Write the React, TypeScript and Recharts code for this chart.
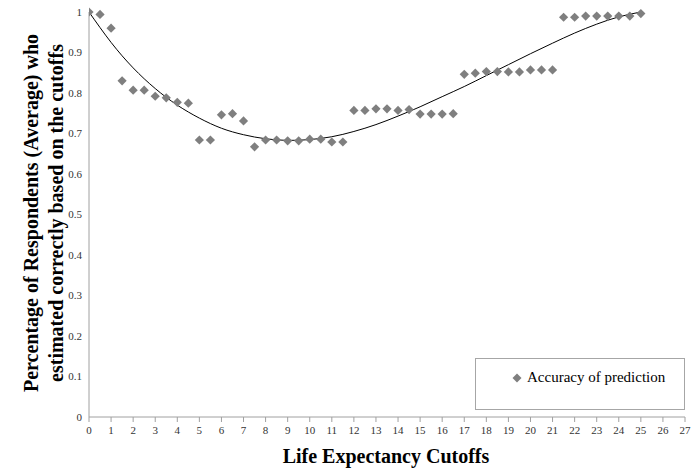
import React from 'react';
import { ComposedChart, Scatter, Line, XAxis, YAxis } from 'recharts';

const cutoffs = [
  0, 0.5, 1, 1.5, 2, 2.5, 3, 3.5, 4, 4.5, 5, 5.5, 6, 6.5, 7, 7.5, 8, 8.5, 9, 9.5,
  10, 10.5, 11, 11.5, 12, 12.5, 13, 13.5, 14, 14.5, 15, 15.5, 16, 16.5, 17, 17.5,
  18, 18.5, 19, 19.5, 20, 20.5, 21, 21.5, 22, 22.5, 23, 23.5, 24, 24.5, 25,
];
const accuracy = [
  1.0, 0.994, 0.96, 0.83, 0.807, 0.807, 0.792, 0.788, 0.777, 0.775, 0.684, 0.684,
  0.746, 0.749, 0.731, 0.667, 0.684, 0.684, 0.682, 0.682, 0.686, 0.686, 0.679, 0.679,
  0.757, 0.757, 0.761, 0.761, 0.757, 0.759, 0.748, 0.748, 0.748, 0.749, 0.846, 0.849,
  0.853, 0.853, 0.852, 0.852, 0.857, 0.857, 0.857, 0.987, 0.987, 0.99, 0.99, 0.99,
  0.99, 0.99, 0.996,
];
const trendX = [0, 1, 2, 3, 4, 5, 6, 7, 8, 9, 10, 11, 12, 13, 14, 15, 16, 17, 18, 19, 20, 21, 22, 23, 24, 25];
const trendY = [
  1.0, 0.925, 0.862, 0.811, 0.77, 0.738, 0.713, 0.697, 0.687, 0.683, 0.685, 0.692,
  0.705, 0.722, 0.743, 0.766, 0.791, 0.816, 0.843, 0.87, 0.897, 0.923, 0.948, 0.97, 0.988, 1.0,
];
const xTicks = [0, 1, 2, 3, 4, 5, 6, 7, 8, 9, 10, 11, 12, 13, 14, 15, 16, 17, 18, 19, 20, 21, 22, 23, 24, 25, 26, 27];
const yTicks = [0, 0.1, 0.2, 0.3, 0.4, 0.5, 0.6, 0.7, 0.8, 0.9, 1];
const seriesName = 'Accuracy of prediction';
const xTitle = 'Life Expectancy Cutoffs';
const yTitleLines = ['Percentage of Respondents (Average) who', 'estimated correctly based on the cutoffs'];

const scatterData = cutoffs.map((x, i) => ({ x, y: accuracy[i] }));
const trendData = trendX.map((x, i) => ({ x, y: trendY[i] }));

const SERIF = '"Liberation Serif", "Times New Roman", serif';
const MARK = '#7f7f7f';

const Diamond = (props: any) => {
  const { cx, cy } = props;
  if (cx == null || cy == null) return null;
  const r = 4.6;
  return (
    <polygon
      points={`${cx},${cy - r} ${cx + r},${cy} ${cx},${cy + r} ${cx - r},${cy}`}
      fill={MARK}
    />
  );
};

const YTitle = () => (
  <g>
    <text
      transform="translate(38,213) rotate(-90)"
      textAnchor="middle"
      fontFamily={SERIF}
      fontWeight="bold"
      fontSize={20}
      fill="#000"
    >
      <tspan x={0} dy={0}>{yTitleLines[0]}</tspan>
      <tspan x={0} dy={25}>{yTitleLines[1]}</tspan>
    </text>
  </g>
);

const XTitle = () => (
  <text
    x={386}
    y={463}
    textAnchor="middle"
    fontFamily={SERIF}
    fontWeight="bold"
    fontSize={20}
    fill="#000"
  >
    {xTitle}
  </text>
);

export default function App() {
  return (
    <div
      style={{
        position: 'absolute',
        left: 0,
        top: 0,
        width: 698,
        height: 475,
        background: '#fff',
        fontFamily: SERIF,
      }}
    >
      <ComposedChart
        width={698}
        height={475}
        margin={{ top: 12, right: 13, bottom: 28, left: 59 }}
      >
        <XAxis
          type="number"
          dataKey="x"
          domain={[0, 27]}
          ticks={xTicks}
          interval={0}
          allowDataOverflow
          height={30}
          stroke="#a0a0a0"
          tickSize={5}
          tickMargin={4}
          tick={{ fill: '#333', fontSize: 11, fontFamily: SERIF }}
          label={{ content: () => <XTitle /> }}
        />
        <YAxis
          type="number"
          dataKey="y"
          domain={[0, 1]}
          ticks={yTicks}
          interval={0}
          width={30}
          stroke="#a0a0a0"
          tickLine={false}
          tickSize={0}
          tickMargin={7}
          tick={{ fill: '#333', fontSize: 11, fontFamily: SERIF }}
          tickFormatter={(v: number) => String(Math.round(v * 10) / 10)}
          label={{ content: () => <YTitle /> }}
        />
        <Scatter
          name={seriesName}
          data={scatterData}
          dataKey="y"
          shape={Diamond}
          isAnimationActive={false}
        />
        <Line
          data={trendData}
          dataKey="y"
          type="natural"
          stroke="#000"
          strokeWidth={1}
          dot={false}
          activeDot={false}
          isAnimationActive={false}
        />
      </ComposedChart>
      <div
        style={{
          position: 'absolute',
          left: 475,
          top: 358,
          width: 210,
          height: 52,
          border: '1px solid #a6a6a6',
          background: '#fff',
          boxSizing: 'border-box',
        }}
      >
        <svg
          width={10}
          height={10}
          style={{ position: 'absolute', left: 36, top: 14 }}
        >
          <polygon points="5,0.5 9.5,5 5,9.5 0.5,5" fill={MARK} />
        </svg>
        <span
          style={{
            position: 'absolute',
            left: 51,
            top: 9,
            fontSize: 15,
            fontFamily: SERIF,
            color: '#000',
            whiteSpace: 'nowrap',
            lineHeight: '18px',
          }}
        >
          {seriesName}
        </span>
      </div>
    </div>
  );
}
